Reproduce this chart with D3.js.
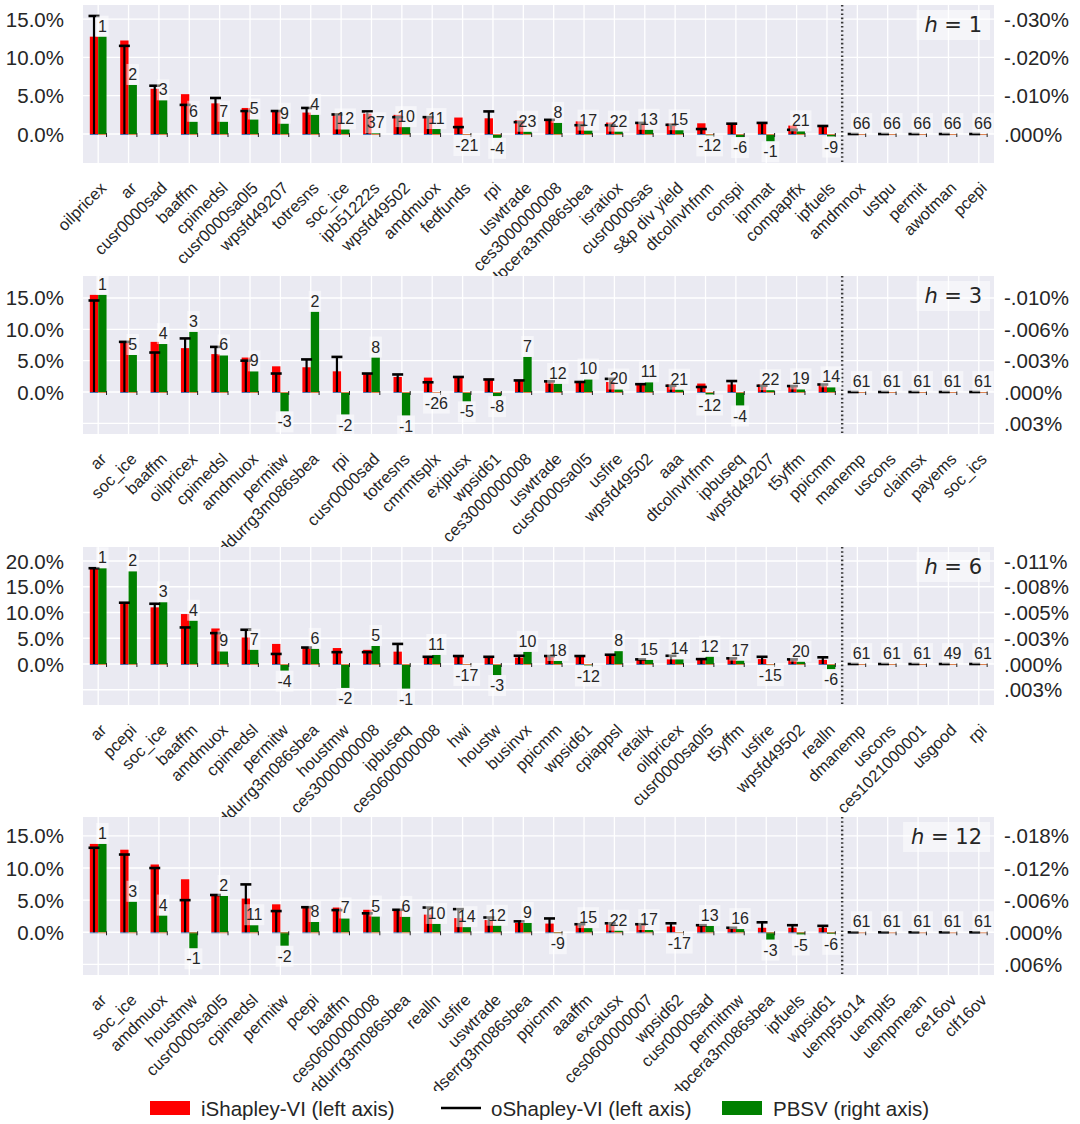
<!DOCTYPE html>
<html>
<head>
<meta charset="utf-8">
<script src="https://cdn.jsdelivr.net/npm/d3@7"></script>
<style>
  body { margin: 0; background: #fff; }
  text { font-family: "Liberation Sans", Arial, sans-serif; fill: #262626; }
</style>
</head>
<body>
<script>
// ---- data ----
// iShapley / oShapley in % (left axis), PBSV in % of the right axis (negative = up)
var cats_h1 = ["oilpricex","ar","cusr0000sad","baaffm","cpimedsl","cusr0000sa0l5","wpsfd49207","totresns","soc_ice","ipb51222s","wpsfd49502","amdmuox","fedfunds","rpi","uswtrade","ces3000000008","dpcera3m086sbea","isratiox","cusr0000sas","s&p div yield","dtcolnvhfnm","conspi","ipnmat","compapffx","ipfuels","amdmnox","ustpu","permit","awotman","pcepi"];
var ishap_h1 = [12.7,12.2,5.9,5.2,4.0,3.4,3.0,2.8,2.65,2.65,2.5,2.35,2.15,2.05,1.8,1.85,1.65,1.5,1.5,1.35,1.4,1.35,1.4,1.1,1.05,0,0,0,0,0];
var oshap_h1 = [15.4,11.5,6.3,3.8,4.7,3.0,3.0,3.4,2.55,2.95,2.2,2.2,0.9,2.95,1.55,1.85,1.15,1.15,1.45,1.2,0.65,1.35,1.45,0.55,1.05,0,0,0,0,0];
var pbsv_h1 = [-0.0254,-0.0128,-0.0088,-0.0032,-0.0032,-0.0038,-0.0027,-0.0050,-0.0012,-0.0002,-0.0018,-0.0013,0.00026,0.0010,-0.0006,-0.0029,-0.0009,-0.00064,-0.0011,-0.0010,0.00036,0.0008,0.0019,-0.0007,0.00066,0,0,0,0,0];
var rank_h1 = [1,2,3,6,7,5,9,4,12,37,10,11,-21,-4,23,8,17,22,13,15,-12,-6,-1,21,-9,66,66,66,66,66];

var cats_h3 = ["ar","soc_ice","baaffm","oilpricex","cpimedsl","amdmuox","permitw","ddurrg3m086sbea","rpi","cusr0000sad","totresns","cmrmtsplx","exjpusx","wpsid61","ces3000000008","uswtrade","cusr0000sa0l5","usfire","wpsfd49502","aaa","dtcolnvhfnm","ipbuseq","wpsfd49207","t5yffm","ppicmm","manemp","uscons","claimsx","payems","soc_ics"];
var ishap_h3 = [15.5,8.0,8.0,7.0,6.05,5.5,4.1,3.95,3.3,2.85,2.4,2.3,2.4,2.1,1.75,1.7,1.6,1.6,1.35,1.2,1.35,1.2,1.2,1.05,1.05,0,0,0,0,0];
var oshap_h3 = [14.6,8.0,6.3,8.55,7.2,5.0,2.95,5.2,5.6,2.95,2.8,1.55,2.4,2.0,1.85,1.7,1.6,2.1,1.25,1.0,0.8,1.75,1.0,0.95,1.2,0,0,0,0,0];
var pbsv_h3 = [-0.00992,-0.00378,-0.00490,-0.00614,-0.00374,-0.00211,0.00198,-0.00819,0.00230,-0.00352,0.00240,0.00006,0.00096,0.00042,-0.00358,-0.00083,-0.00128,-0.00026,-0.00099,-0.00024,0.00026,0.00138,-0.00019,-0.00027,-0.00048,0,0,0,0,0];
var rank_h3 = [1,5,4,3,6,9,-3,2,-2,8,-1,-26,-5,-8,7,12,10,20,11,21,-12,-4,22,19,14,61,61,61,61,61];

var cats_h6 = ["ar","pcepi","soc_ice","baaffm","amdmuox","cpimedsl","permitw","ddurrg3m086sbea","houstmw","ces3000000008","ipbuseq","ces0600000008","hwi","houstw","businvx","ppicmm","wpsid61","cpiappsl","retailx","oilpricex","cusr0000sa0l5","t5yffm","usfire","wpsfd49502","realln","dmanemp","uscons","ces1021000001","usgood","rpi"];
var ishap_h6 = [18.6,11.9,11.0,9.7,6.9,5.15,3.9,3.2,3.1,2.75,2.4,1.55,1.4,1.3,1.25,1.4,1.4,1.55,0.8,0.9,0.9,1.0,0.95,0.8,0.8,0,0,0,0,0];
var oshap_h6 = [18.6,11.9,11.7,7.1,6.0,6.65,1.95,3.2,2.3,2.3,3.9,1.4,1.55,1.4,1.6,1.55,1.55,1.8,0.9,1.6,0.95,1.1,1.4,0.9,1.3,0,0,0,0,0];
var pbsv_h6 = [-0.01004,-0.00972,-0.00648,-0.00454,-0.00132,-0.00149,0.00070,-0.00159,0.00251,-0.00189,0.00259,-0.00095,0.00010,0.00116,-0.00127,-0.00032,0.00016,-0.00135,-0.00043,-0.00049,-0.00076,-0.00035,0.00012,-0.00024,0.00054,0,0,0,0,0];
var rank_h6 = [1,2,3,4,9,7,-4,6,-2,5,-1,11,-17,-3,10,18,-12,8,15,14,12,17,-15,20,-6,61,61,61,49,61];

var cats_h12 = ["ar","soc_ice","amdmuox","houstmw","cusr0000sa0l5","cpimedsl","permitw","pcepi","baaffm","ces0600000008","ddurrg3m086sbea","realln","usfire","uswtrade","dserrg3m086sbea","ppicmm","aaaffm","excausx","ces0600000007","wpsid62","cusr0000sad","permitmw","dpcera3m086sbea","ipfuels","wpsid61","uemp5to14","uemplt5","uempmean","ce16ov","clf16ov"];
var ishap_h12 = [13.75,12.85,10.55,8.25,5.8,5.25,4.35,3.9,3.85,3.5,3.5,2.75,2.2,1.9,1.45,1.35,1.1,1.25,1.25,0.9,1.1,0.8,0.7,0.7,0.7,0,0,0,0,0];
var oshap_h12 = [13.15,12.1,10.0,5.0,5.8,7.45,3.3,3.9,3.45,2.95,3.5,3.85,3.6,2.3,1.7,2.15,1.25,1.4,1.25,1.4,1.1,0.7,1.55,1.1,1.0,0,0,0,0,0];
var pbsv_h12 = [-0.0165,-0.0057,-0.00312,0.0030,-0.00678,-0.00132,0.00252,-0.00192,-0.00258,-0.00294,-0.00288,-0.00156,-0.00096,-0.00122,-0.00174,0.00018,-0.00078,-0.0003,-0.00042,0.00006,-0.00118,-0.0006,0.00138,0.00042,0.0003,0,0,0,0,0];
var rank_h12 = [1,3,4,-1,2,11,-2,8,7,5,6,10,14,12,9,-9,15,22,17,-17,13,16,-3,-5,-6,61,61,61,61,61];

// axis ticks
var leftTicks_h1 = [0, 5, 10, 15];
var leftTicks_h3 = [-5, 0, 5, 10, 15];
var leftTicks_h6 = [-5, 0, 5, 10, 15, 20];
var leftTicks_h12 = [-5, 0, 5, 10, 15];
var rightTicks_h1 = [-0.03, -0.02, -0.01, 0];
var rightTicks_h3 = [-0.0096, -0.0064, -0.0032, 0, 0.0032];
var rightTicks_h6 = [-0.0108, -0.0081, -0.0054, -0.0027, 0, 0.0027];
var rightTicks_h12 = [-0.018, -0.012, -0.006, 0, 0.006];
// right-axis units per 5% of the left axis
var rightPer5 = [0.010, 0.0032, 0.0027, 0.006];
var yLimits = [[-3.78, 16.83], [-6.70, 18.51], [-7.96, 22.72], [-6.65, 17.94]];

var panels = [
  {h: 1, cats: cats_h1, ishap: ishap_h1, oshap: oshap_h1, pbsv: pbsv_h1, rank: rank_h1, lt: leftTicks_h1, rt: rightTicks_h1},
  {h: 3, cats: cats_h3, ishap: ishap_h3, oshap: oshap_h3, pbsv: pbsv_h3, rank: rank_h3, lt: leftTicks_h3, rt: rightTicks_h3},
  {h: 6, cats: cats_h6, ishap: ishap_h6, oshap: oshap_h6, pbsv: pbsv_h6, rank: rank_h6, lt: leftTicks_h6, rt: rightTicks_h6},
  {h: 12, cats: cats_h12, ishap: ishap_h12, oshap: oshap_h12, pbsv: pbsv_h12, rank: rank_h12, lt: leftTicks_h12, rt: rightTicks_h12}
];

var width = 1080, height = 1124;
var plotLeft = 83, plotRight = 994;
var panelTop = [5, 276, 547, 817], panelH = 158;
var nSelected = 25; // dotted line after this many variables

var svg = d3.select("body").append("svg")
    .attr("width", width)
    .attr("height", height);

svg.append("rect").attr("width", width).attr("height", height).attr("fill", "#fff");

function fmtRight(v) {
  return v.toFixed(3).replace("0.", ".") + "%";
}

panels.forEach(function(p, i) {
  var top = panelTop[i], bottom = top + panelH;
  var g = svg.append("g");

  var x = d3.scaleBand().domain(p.cats).range([plotLeft, plotRight]);
  var y = d3.scaleLinear().domain(yLimits[i]).range([bottom, top]);
  var k = rightPer5[i] / 5;
  var yR = d3.scaleLinear().domain([-k * yLimits[i][0], -k * yLimits[i][1]]).range([bottom, top]);
  var bw = x.bandwidth(), barW = bw * 0.275;
  function cx(c) { return x(c) + bw / 2; }

  var rows = p.cats.map(function(c, j) {
    return {cat: c, ishap: p.ishap[j], oshap: p.oshap[j], pbsv: p.pbsv[j], rank: p.rank[j]};
  });

  g.append("rect")
      .attr("x", plotLeft).attr("y", top)
      .attr("width", plotRight - plotLeft).attr("height", panelH)
      .attr("fill", "#EAEAF2");

  // grid
  g.selectAll("line.vgrid").data(p.cats).enter().append("line")
      .attr("x1", cx).attr("x2", cx)
      .attr("y1", top).attr("y2", bottom)
      .attr("stroke", "#fff").attr("stroke-width", 1.3);
  g.selectAll("line.hgrid").data(p.lt).enter().append("line")
      .attr("x1", plotLeft).attr("x2", plotRight)
      .attr("y1", y).attr("y2", y)
      .attr("stroke", "#fff").attr("stroke-width", 1.3);

  // iShapley-VI bars (left axis)
  g.selectAll("rect.ishap").data(rows).enter().append("rect")
      .attr("x", function(d) { return cx(d.cat) - barW; })
      .attr("width", barW)
      .attr("y", function(d) { return Math.min(y(d.ishap), y(0)); })
      .attr("height", function(d) { return Math.abs(y(0) - y(d.ishap)); })
      .attr("fill", "#FF0000");

  // PBSV bars (right axis)
  g.selectAll("rect.pbsv").data(rows).enter().append("rect")
      .attr("x", function(d) { return cx(d.cat); })
      .attr("width", barW)
      .attr("y", function(d) { return Math.min(yR(d.pbsv), yR(0)); })
      .attr("height", function(d) { return Math.abs(yR(0) - yR(d.pbsv)); })
      .attr("fill", "#008000");

  // thin baseline remnants
  g.selectAll("line.b1").data(rows).enter().append("line")
      .attr("x1", function(d) { return cx(d.cat) - barW; })
      .attr("x2", function(d) { return cx(d.cat); })
      .attr("y1", y(0) + 0.5).attr("y2", y(0) + 0.5)
      .attr("stroke", "#4C72B0").attr("stroke-width", 1);
  g.selectAll("line.b2").data(rows).enter().append("line")
      .attr("x1", function(d) { return cx(d.cat); })
      .attr("x2", function(d) { return cx(d.cat) + barW; })
      .attr("y1", y(0) + 0.5).attr("y2", y(0) + 0.5)
      .attr("stroke", "#DD8452").attr("stroke-width", 1);
  g.selectAll("line.b3").data(rows).enter().append("line")
      .attr("x1", function(d) { return cx(d.cat) + barW; })
      .attr("x2", function(d) { return cx(d.cat) + barW; })
      .attr("y1", y(0) - 1).attr("y2", y(0) + 3)
      .attr("stroke", "#222").attr("stroke-width", 1);

  // oShapley-VI: line from 0 with a cap
  g.selectAll("line.ostem").data(rows).enter().append("line")
      .attr("x1", function(d) { return cx(d.cat) - barW / 2; })
      .attr("x2", function(d) { return cx(d.cat) - barW / 2; })
      .attr("y1", y(0))
      .attr("y2", function(d) { return y(d.oshap); })
      .attr("stroke", "#000").attr("stroke-width", 2.2);
  g.selectAll("line.ocap").data(rows).enter().append("line")
      .attr("x1", function(d) { return cx(d.cat) - barW / 2 - 5.5; })
      .attr("x2", function(d) { return cx(d.cat) - barW / 2 + 5.5; })
      .attr("y1", function(d) { return y(d.oshap); })
      .attr("y2", function(d) { return y(d.oshap); })
      .attr("stroke", "#000").attr("stroke-width", 2.6);

  // dotted separator
  var sepX = x(p.cats[nSelected]);
  g.append("line")
      .attr("x1", sepX).attr("x2", sepX)
      .attr("y1", top).attr("y2", bottom)
      .attr("stroke", "#3a3a3a").attr("stroke-width", 2.4)
      .attr("stroke-dasharray", "1.6,2.6");

  // PBSV rank labels with translucent boxes
  rows.forEach(function(d) {
    var lg = g.append("g");
    var up = d.pbsv <= 0;
    var yEdge = up ? Math.min(yR(0), yR(d.pbsv)) : Math.max(yR(0), yR(d.pbsv));
    var yc = up ? yEdge - 10.5 : yEdge + 10.5;
    var xc = cx(d.cat) + barW / 2;
    var box = lg.append("rect");
    var t = lg.append("text")
        .attr("x", xc).attr("y", yc)
        .attr("text-anchor", "middle")
        .attr("dominant-baseline", "central")
        .style("font-size", "16px")
        .text(d.rank);
    var tw = t.node().getComputedTextLength();
    box.attr("x", xc - tw / 2 - 1.8).attr("y", yc - 10.5)
        .attr("width", tw + 3.6).attr("height", 21)
        .attr("fill", "#fff").attr("fill-opacity", 0.5);
  });

  // horizon tag
  var hg = g.append("g");
  var hbox = hg.append("rect");
  var ht = hg.append("text")
      .attr("x", plotRight - 12).attr("y", top + 20)
      .attr("text-anchor", "end")
      .attr("dominant-baseline", "central")
      .style("font-family", "'DejaVu Sans', sans-serif")
      .style("font-size", "21px");
  ht.append("tspan").style("font-style", "italic").text("h");
  ht.append("tspan").text(" = " + p.h);
  var hw = ht.node().getComputedTextLength();
  hbox.attr("x", plotRight - 12 - hw - 8).attr("y", top + 5)
      .attr("width", hw + 16).attr("height", 30)
      .attr("fill", "#fff").attr("fill-opacity", 0.5);

  // left tick labels
  g.selectAll("text.yl").data(p.lt.filter(function(v) { return v >= 0; })).enter().append("text")
      .attr("x", 64).attr("y", y)
      .attr("text-anchor", "end")
      .attr("dominant-baseline", "central")
      .style("font-size", "20.5px")
      .text(function(v) { return v.toFixed(1) + "%"; });

  // right tick labels
  g.selectAll("text.yr").data(p.rt).enter().append("text")
      .attr("x", plotRight + 10).attr("y", yR)
      .attr("text-anchor", "start")
      .attr("dominant-baseline", "central")
      .style("font-size", "20.5px")
      .text(fmtRight);

  // category labels
  g.selectAll("text.xl").data(p.cats).enter().append("text")
      .attr("text-anchor", "end")
      .attr("dy", "0.35em")
      .attr("transform", function(c) {
        return "translate(" + (cx(c) + 5) + "," + (bottom + 22) + ") rotate(-45)";
      })
      .style("font-size", "16.5px")
      .text(function(c) { return c; });
});

// legend
var leg = svg.append("g");
leg.append("rect").attr("x", 135).attr("y", 1091).attr("width", 810).attr("height", 33).attr("fill", "#fff");
leg.append("rect").attr("x", 150).attr("y", 1101).attr("width", 40).attr("height", 14).attr("fill", "#FF0000");
leg.append("text").attr("x", 201).attr("y", 1108).attr("dominant-baseline", "central")
    .style("font-size", "20.5px").text("iShapley-VI (left axis)");
leg.append("line").attr("x1", 441).attr("x2", 481).attr("y1", 1108).attr("y2", 1108)
    .attr("stroke", "#000").attr("stroke-width", 2.5);
leg.append("text").attr("x", 491).attr("y", 1108).attr("dominant-baseline", "central")
    .style("font-size", "20.5px").text("oShapley-VI (left axis)");
leg.append("rect").attr("x", 722).attr("y", 1101).attr("width", 40).attr("height", 14).attr("fill", "#008000");
leg.append("text").attr("x", 773).attr("y", 1108).attr("dominant-baseline", "central")
    .style("font-size", "20.5px").text("PBSV (right axis)");
</script>
</body>
</html>
